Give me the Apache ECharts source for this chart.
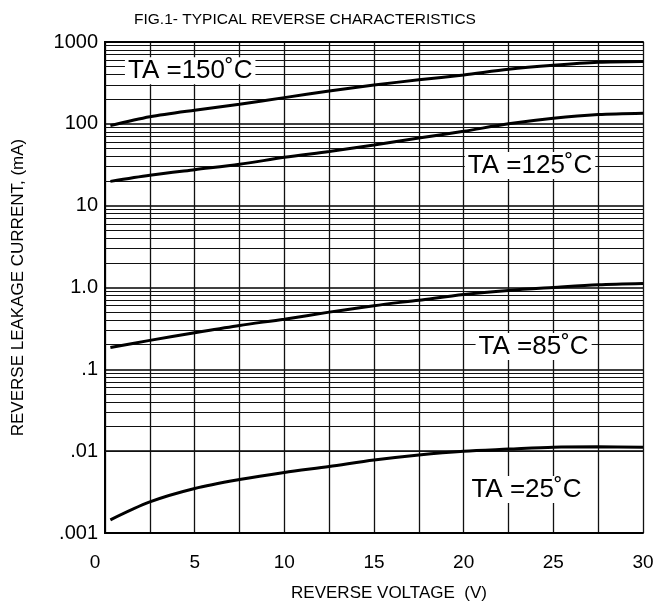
<!DOCTYPE html>
<html><head><meta charset="utf-8">
<script src="https://cdn.jsdelivr.net/npm/echarts@6/dist/echarts.min.js"></script>
<style>html,body{margin:0;padding:0;background:#fff}#c{width:658px;height:609px}</style>
</head><body><div id="c"></div>
<script>
const voltages = [0.3, 2.5, 5, 7.5, 10, 12.5, 15, 17.5, 20, 22.5, 25, 27.5, 30];
const curve150 = [95, 122, 147, 173, 209, 252, 298, 345, 396, 465, 520, 565, 578];
const curve125 = [19.8, 23.5, 27.5, 32, 39, 46, 55, 67, 81, 100, 117, 130, 135];
const curve85 = [0.185, 0.226, 0.28, 0.344, 0.41, 0.5, 0.6, 0.7, 0.82, 0.92, 1.0, 1.08, 1.12];
const curve25 = [0.00145, 0.0024, 0.0035, 0.0045, 0.0055, 0.0065, 0.0078, 0.009, 0.0100, 0.0106, 0.0112, 0.0113, 0.0112];
const seriesNames = ['TA =150˚C', 'TA =125˚C', 'TA =85˚C', 'TA =25˚C'];
const labelAnchors = [[4.75, 445], [23.7, 31], [23.9, 0.19], [23.5, 0.0034]];
const yTickLabels = {'0.001': '.001', '0.01': '.01', '0.1': '.1', '1': '1.0', '10': '10', '100': '100', '1000': '1000'};
const decades = [0.001, 0.01, 0.1, 1, 10, 100];
const minorMult = [2, 3, 4, 5, 6, 7, 8, 9];

const minorValues = [];
decades.forEach(d => minorMult.forEach(m => minorValues.push(+(d * m).toPrecision(3))));

const FONT = 'Liberation Sans, Arial, sans-serif';
const curves = [curve150, curve125, curve85, curve25];
const series = curves.map((c, i) => ({
  type: 'line',
  name: seriesNames[i],
  data: voltages.map((v, j) => [v, c[j]]),
  smooth: 0.3,
  showSymbol: false,
  lineStyle: {color: '#000', width: 3},
  z: 5,
  markPoint: {
    symbol: 'rect', symbolSize: 0,
    silent: true,
    data: [{coord: labelAnchors[i]}],
    label: {
      show: true, position: 'inside',
      formatter: seriesNames[i],
      color: '#000', fontSize: 26, fontFamily: FONT,
      backgroundColor: '#fff', padding: [1, 3, 0, 3]
    },
    z: 10
  }
}));
series.push({
  type: 'line', data: [], silent: true, z: 1,
  markLine: {
    silent: true, symbol: 'none', animation: false,
    label: {show: false},
    lineStyle: {color: '#111', width: 1, type: 'solid'},
    data: minorValues.map(v => ({yAxis: v}))
  }
});

const chart = echarts.init(document.getElementById('c'), null, {renderer: 'canvas'});
chart.setOption({
  animation: false,
  backgroundColor: '#fff',
  title: {
    text: 'FIG.1- TYPICAL REVERSE CHARACTERISTICS',
    left: 300, top: 7, textAlign: 'center',
    textStyle: {fontSize: 15.5, fontWeight: 'normal', color: '#000', fontFamily: FONT}
  },
  grid: {left: 105, right: 15, top: 42, bottom: 76},
  xAxis: [{
    type: 'value', min: 0, max: 30, interval: 5,
    name: 'REVERSE VOLTAGE  (V)', nameLocation: 'middle', nameGap: 52,
    nameTextStyle: {fontSize: 17, color: '#000', fontFamily: FONT, padding: [0, 0, 0, 30]},
    axisLine: {lineStyle: {color: '#000', width: 2}},
    axisTick: {show: false},
    axisLabel: {
      fontSize: 19, color: '#000', margin: 20, fontFamily: FONT,
      formatter: v => v === 0 ? '{z|0}' : String(v),
      rich: {z: {fontSize: 19, color: '#000', fontFamily: FONT, padding: [0, 20, 0, 0]}}
    },
    splitLine: {show: true, lineStyle: {color: '#111', width: 1.3}},
    minorTick: {show: false, splitNumber: 2},
    minorSplitLine: {show: true, lineStyle: {color: '#111', width: 1.3}}
  }, {
    type: 'value', position: 'top', min: 0, max: 30,
    axisLine: {show: true, lineStyle: {color: '#000', width: 2}},
    axisLabel: {show: false}, axisTick: {show: false}, splitLine: {show: false}
  }],
  yAxis: [{
    type: 'log', logBase: 10, min: 0.001, max: 1000,
    name: 'REVERSE LEAKAGE CURRENT, (mA)', nameLocation: 'middle', nameGap: 78,
    nameTextStyle: {fontSize: 17, color: '#000', fontFamily: FONT},
    axisLine: {show: true, lineStyle: {color: '#000', width: 2}},
    axisTick: {show: false},
    axisLabel: {
      fontSize: 20, color: '#000', margin: 7, fontFamily: FONT,
      formatter: v => yTickLabels[String(+v.toPrecision(3))] || ''
    },
    splitLine: {show: true, lineStyle: {color: '#000', width: 1.5}}
  }, {
    type: 'log', position: 'right', min: 0.001, max: 1000,
    axisLine: {show: true, lineStyle: {color: '#000', width: 2}},
    axisLabel: {show: false}, axisTick: {show: false}, splitLine: {show: false}
  }],
  series: series
});
</script></body></html>
